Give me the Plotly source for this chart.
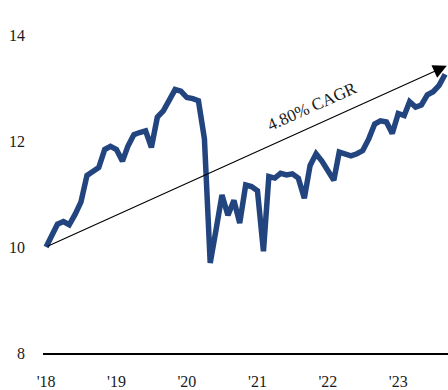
import pandas as pd
import plotly.graph_objects as go

# Monthly index level, Jan 2018 - Sep 2023
start_month = "2018-01-01"
index_values = [
    10.00, 10.25, 10.43, 10.48, 10.42, 10.62, 10.85, 11.35, 11.42, 11.50, 11.84, 11.90,
    11.84, 11.62, 11.90, 12.12, 12.16, 12.19, 11.88, 12.45, 12.57, 12.78, 12.97, 12.94,
    12.82, 12.80, 12.76, 12.04, 9.70, 10.34, 10.98, 10.60, 10.88, 10.45, 11.17, 11.14,
    11.06, 9.92, 11.33, 11.30, 11.39, 11.36, 11.38, 11.30, 10.92, 11.54, 11.76, 11.62,
    11.42, 11.26, 11.79, 11.75, 11.72, 11.76, 11.82, 12.04, 12.32, 12.38, 12.36, 12.14,
    12.52, 12.48, 12.74, 12.64, 12.68, 12.87, 12.93, 13.05, 13.26,
]
months = pd.date_range(start_month, periods=len(index_values), freq="MS")

tick_dates = ["2018-01-01", "2019-01-01", "2020-01-01", "2021-01-01", "2022-01-01", "2023-01-01"]
tick_labels = ["'18", "'19", "'20", "'21", "'22", "'23"]
y_ticks = [8, 10, 12, 14]

# Trend arrow (tail at the first observation, head at the end of the window)
cagr_label = "4.80% CAGR"
trend_start = ("2018-01-01", 10.0)
trend_end = ("2023-09-10", 13.42)

font_family = "Liberation Serif, Times New Roman, serif"
ink = "#1a1a1a"

fig = go.Figure()
fig.add_trace(go.Scatter(
    x=months, y=index_values, mode="lines",
    line=dict(color="#23457f", width=5.5, shape="linear"),
    hoverinfo="skip", showlegend=False,
))

fig.add_annotation(
    x=trend_end[0], y=trend_end[1], ax=trend_start[0], ay=trend_start[1],
    xref="x", yref="y", axref="x", ayref="y",
    showarrow=True, arrowhead=2, arrowsize=2.5, arrowwidth=1.1,
    arrowcolor="black", text="", standoff=0, startstandoff=0,
)
fig.add_annotation(
    x="2021-10-10", y=12.66, xref="x", yref="y",
    text=cagr_label, showarrow=False, textangle=-24,
    font=dict(family=font_family, size=17, color=ink),
)

fig.update_layout(
    width=448, height=390,
    margin=dict(l=43, r=0, t=35, b=35),
    paper_bgcolor="white", plot_bgcolor="white",
    font=dict(family=font_family, size=16, color=ink),
    xaxis=dict(
        range=["2017-12-16", "2023-09-16"],
        tickvals=tick_dates, ticktext=tick_labels,
        showgrid=False, zeroline=False,
        showline=True, linecolor="black", linewidth=2,
        ticks="", ticklabelstandoff=13,
    ),
    yaxis=dict(
        range=[8, 14], tickvals=y_ticks,
        showgrid=False, zeroline=False, showline=False,
        ticks="", ticklabelstandoff=17,
    ),
)

fig.write_html("out.html")
